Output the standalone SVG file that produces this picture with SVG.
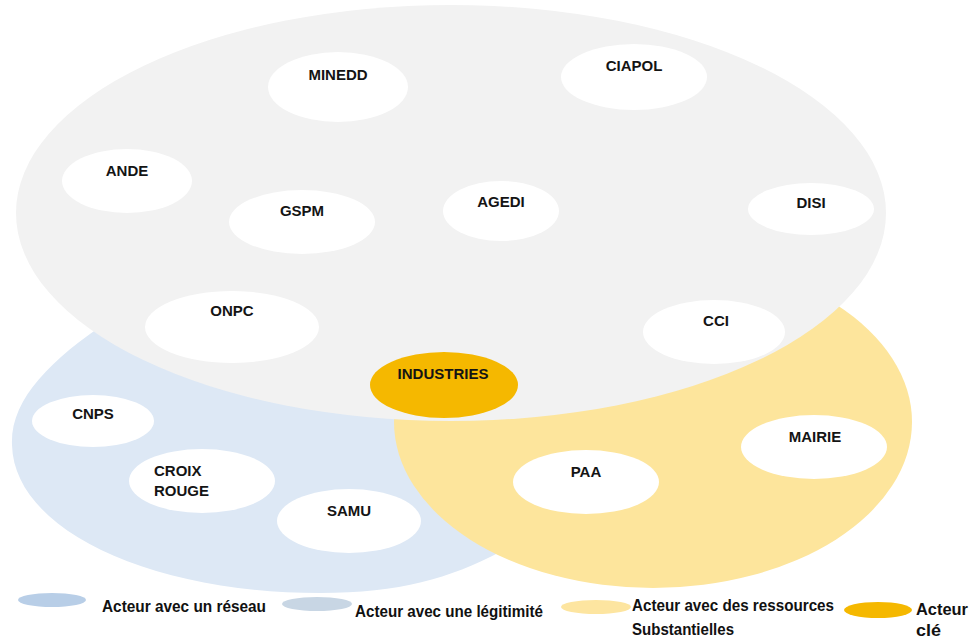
<svg xmlns="http://www.w3.org/2000/svg" width="970" height="640" viewBox="0 0 970 640">
<style>
.lbl{font-family:"Liberation Sans",Arial,sans-serif;font-weight:bold;font-size:15px;fill:#141414;text-anchor:middle}
.lbl-l{font-family:"Liberation Sans",Arial,sans-serif;font-weight:bold;font-size:15px;fill:#141414}
.leg{font-family:"Liberation Sans",Arial,sans-serif;font-weight:bold;font-size:17px;fill:#111}
.node{fill:#ffffff}
</style>
<rect width="970" height="640" fill="#ffffff"/>
<g id="zones">
  <path id="zone-reseau" d="M 110,320 C 50,360 10,400 12,445 C 14,530 150,593 320,593 C 400,593 450,578 500,552 L 560,420 L 300,300 Z" fill="#dde8f5"/>
  <ellipse id="zone-ressources" cx="653" cy="422" rx="259" ry="166" fill="#fde59c"/>
  <ellipse id="zone-legitimite" cx="451" cy="213" rx="435" ry="208" fill="#f2f2f2"/>
</g>
<g id="connectors"/>
<g id="n-minedd"><ellipse class="node" cx="338" cy="87" rx="70" ry="35"/><text class="lbl" x="338" y="80">MINEDD</text></g>
<g id="n-ciapol"><ellipse class="node" cx="634" cy="77" rx="73" ry="33"/><text class="lbl" x="634" y="71">CIAPOL</text></g>
<g id="n-ande"><ellipse class="node" cx="127" cy="181" rx="65" ry="32"/><text class="lbl" x="127" y="176">ANDE</text></g>
<g id="n-gspm"><ellipse class="node" cx="302" cy="222" rx="73" ry="32"/><text class="lbl" x="302" y="216">GSPM</text></g>
<g id="n-agedi"><ellipse class="node" cx="501" cy="211" rx="58" ry="30"/><text class="lbl" x="501" y="207">AGEDI</text></g>
<g id="n-disi"><ellipse class="node" cx="811" cy="209" rx="63" ry="26"/><text class="lbl" x="811" y="208">DISI</text></g>
<g id="n-onpc"><ellipse class="node" cx="232" cy="327" rx="87" ry="36"/><text class="lbl" x="232" y="316">ONPC</text></g>
<g id="n-cci"><ellipse class="node" cx="714" cy="332" rx="71" ry="32"/><text class="lbl" x="716" y="326">CCI</text></g>
<g id="n-industries"><ellipse cx="444" cy="385" rx="74" ry="33" fill="#f5b800"/><text class="lbl" x="443" y="379">INDUSTRIES</text></g>
<g id="n-cnps"><ellipse class="node" cx="93" cy="421" rx="61" ry="26"/><text class="lbl" x="93" y="419">CNPS</text></g>
<g id="n-croix-rouge"><ellipse class="node" cx="202" cy="481" rx="73" ry="32"/><text class="lbl-l" x="154" y="476">CROIX</text><text class="lbl-l" x="154" y="496">ROUGE</text></g>
<g id="n-samu"><ellipse class="node" cx="349" cy="521" rx="72" ry="32"/><text class="lbl" x="349" y="516">SAMU</text></g>
<g id="n-paa"><ellipse class="node" cx="586" cy="482" rx="73" ry="32"/><text class="lbl" x="586" y="477">PAA</text></g>
<g id="n-mairie"><ellipse class="node" cx="814" cy="447" rx="73" ry="32"/><text class="lbl" x="815" y="442">MAIRIE</text></g>
<g id="legend">
  <ellipse cx="52" cy="600" rx="34" ry="7" fill="#b8cee7"/>
  <text class="leg" x="102" y="612" textLength="164" lengthAdjust="spacingAndGlyphs">Acteur avec un réseau</text>
  <ellipse cx="317" cy="604" rx="35" ry="7" fill="#c8d6e4"/>
  <text class="leg" x="355" y="617" textLength="188" lengthAdjust="spacingAndGlyphs">Acteur avec une légitimité</text>
  <ellipse cx="596" cy="607" rx="35" ry="7" fill="#fde5a0"/>
  <text class="leg" x="632" y="611" textLength="202" lengthAdjust="spacingAndGlyphs">Acteur avec des ressources</text>
  <text class="leg" x="632" y="635" textLength="102" lengthAdjust="spacingAndGlyphs">Substantielles</text>
  <ellipse cx="878" cy="610" rx="34" ry="8" fill="#f5b800"/>
  <text class="leg" x="916" y="615" textLength="52" lengthAdjust="spacingAndGlyphs">Acteur</text>
  <text class="leg" x="916" y="636" textLength="25" lengthAdjust="spacingAndGlyphs">clé</text>
</g>
</svg>
